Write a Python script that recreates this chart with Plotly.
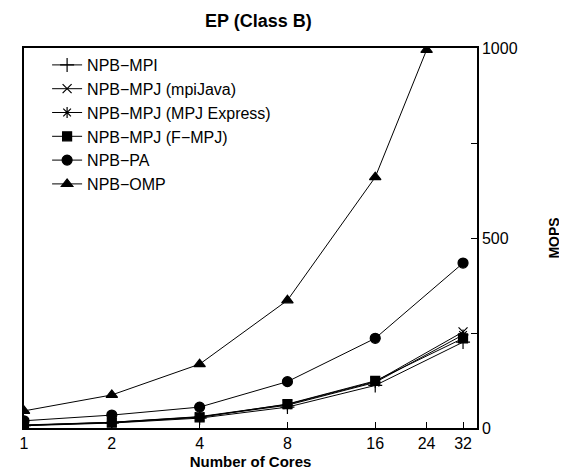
import plotly.graph_objects as go

cores = [1, 2, 4, 8, 16, 32]
cores_omp = [1, 2, 4, 8, 16, 24]
x_ticks = [1, 2, 4, 8, 16, 24, 32]
y_ticks = [0, 250, 500, 750, 1000]
y_tick_text = ["0", "", "500", "", "1000"]

npb_mpi = [6, 13, 26, 55, 112, 226]
npb_mpj_mpijava = [8, 15, 30, 62, 122, 253]
npb_mpj_express = [7, 15, 29, 60, 120, 245]
npb_mpj_fmpj = [7, 14, 28, 63, 124, 236]
npb_pa = [19, 34, 55, 122, 236, 434]
npb_omp = [45, 87, 168, 336, 660, 995]

series = [
    ("NPB\u2212MPI", cores, npb_mpi, "cross-thin", 10),
    ("NPB\u2212MPJ (mpiJava)", cores, npb_mpj_mpijava, "x-thin", 9),
    ("NPB\u2212MPJ (MPJ Express)", cores, npb_mpj_express, "asterisk", 9),
    ("NPB\u2212MPJ (F\u2212MPJ)", cores, npb_mpj_fmpj, "square", 9),
    ("NPB\u2212PA", cores, npb_pa, "circle", 10),
    ("NPB\u2212OMP", cores_omp, npb_omp, "triangle-up", 10),
]

FONT = "Liberation Sans, Arial, Helvetica, sans-serif"

fig = go.Figure()
for name, xs, ys, sym, sz in series:
    fig.add_trace(go.Scatter(
        x=xs, y=ys, name=name, mode="lines+markers",
        line=dict(color="black", width=1),
        marker=dict(symbol=sym, size=sz, color="black",
                    line=dict(color="black", width=1.2)),
    ))

fig.add_annotation(
    text="<b>EP (Class B)</b>", xref="paper", yref="paper",
    x=(249 - 12) / 457, y=1 + (40 - 13) / 384,
    xanchor="center", yanchor="middle", showarrow=False,
    font=dict(size=18, family=FONT, color="black"),
)

fig.update_layout(
    width=567, height=472,
    margin=dict(l=12, r=98, t=40, b=48),
    paper_bgcolor="white", plot_bgcolor="white",
    font=dict(family=FONT, size=16, color="black"),
    showlegend=True,
    legend=dict(x=0.051, y=1.0, xanchor="left", yanchor="top",
                bgcolor="rgba(0,0,0,0)", borderwidth=0,
                font=dict(size=16)),
    xaxis=dict(type="log", range=[0, 1.553], tickvals=x_ticks,
               ticktext=[str(v) for v in x_ticks],
               ticks="inside", ticklen=6, tickcolor="black",
               showline=True, linecolor="black", linewidth=1.5, mirror=True,
               showgrid=False, zeroline=False,
               tickfont=dict(size=16),
               title=dict(text="<b>Number of Cores</b>", font=dict(size=15),
                          standoff=6)),
    yaxis=dict(side="right", range=[0, 1000], tickvals=y_ticks,
               ticktext=y_tick_text,
               ticks="inside", ticklen=6, tickcolor="black",
               showline=True, linecolor="black", linewidth=1.5, mirror=True,
               showgrid=False, zeroline=False,
               tickfont=dict(size=16),
               title=dict(text="<b>MOPS</b>", font=dict(size=14),
                          standoff=33)),
)

fig.write_html("out.html")
